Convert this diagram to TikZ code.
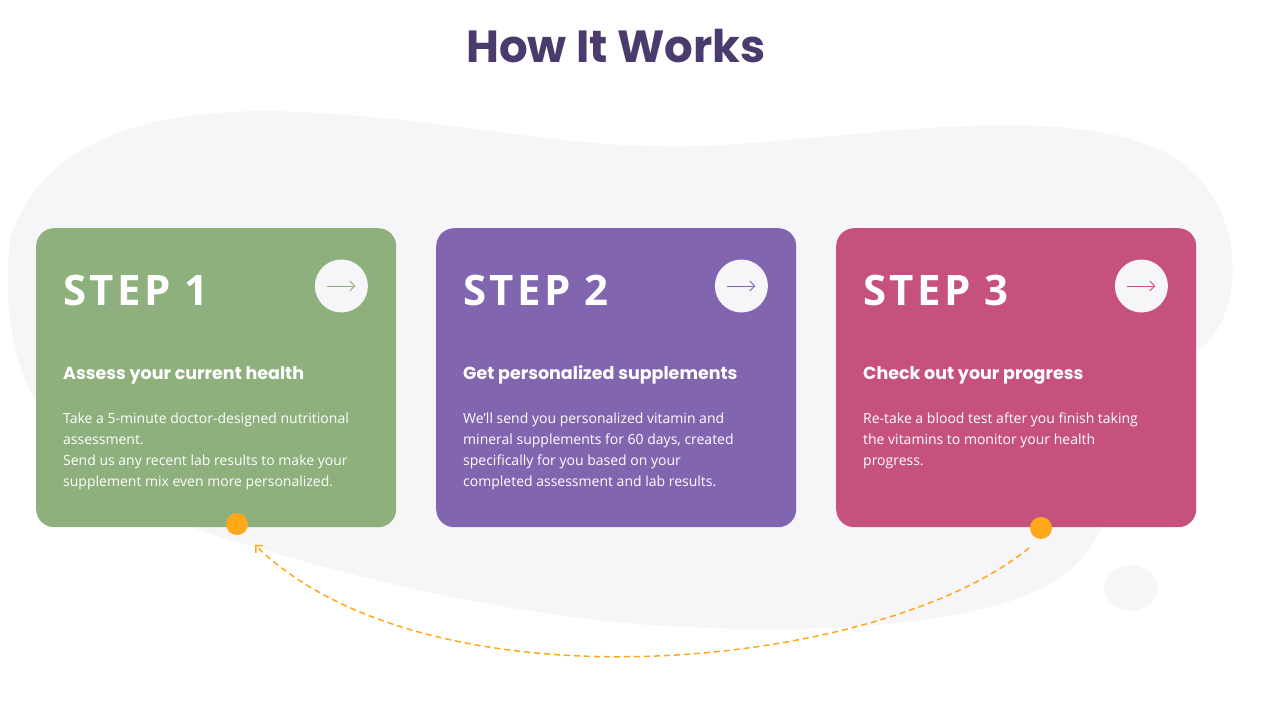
\documentclass[tikz,border=0pt]{standalone}
\usepackage{fontspec}
\setmainfont{Open Sans}
\newfontfamily\headfont{Poppins}
\newfontfamily\stepfont{Open Sans}[LetterSpace=8]
\usetikzlibrary{positioning,arrows.meta}
\definecolor{blobgrey}{HTML}{F6F5F8}
\definecolor{stepgreen}{HTML}{8DB07C}
\definecolor{steppurple}{HTML}{8265AF}
\definecolor{steppink}{HTML}{C6517E}
\definecolor{dotorange}{HTML}{FFA91A}
\definecolor{titlepurple}{HTML}{4A3A6E}
\tikzset{
  card/.style={fill=#1, rounded corners=18pt, minimum width=360pt, minimum height=299pt, inner sep=0pt},
  steplabel/.style={text=white, anchor=base west, font=\stepfont\bfseries\fontsize{42}{48}\selectfont, inner sep=0pt},
  stephead/.style={text=white, anchor=base west, font=\headfont\bfseries\fontsize{17.5}{20}\selectfont, inner sep=0pt},
  stepbody/.style={text=white, anchor=north west, align=left, font=\fontsize{14}{21}\selectfont, inner sep=0pt},
  gobutton/.style={circle, fill=blobgrey, minimum size=53pt, inner sep=0pt},
  orangedot/.style={circle, fill=dotorange, minimum size=22pt, inner sep=0pt}
}
\begin{document}
\begin{tikzpicture}[x=1pt,y=-1pt]
\useasboundingbox (0,0) rectangle (1272,709);
% background blob
\fill[blobgrey] (10,240) .. controls (40,140) and (150,105) .. (300,112)
  .. controls (450,118) and (560,150) .. (700,146)
  .. controls (850,140) and (1050,100) .. (1160,150)
  .. controls (1250,190) and (1250,320) .. (1195,352)
  .. controls (1120,400) and (1130,520) .. (1070,570)
  .. controls (1000,630) and (800,635) .. (650,625)
  .. controls (480,612) and (330,570) .. (230,540)
  .. controls (100,500) and (-10,420) .. (10,240) -- cycle;
\fill[blobgrey] (1131,588) ellipse [x radius=27, y radius=23];
% title
\node[text=titlepurple, font=\headfont\bfseries\fontsize{45}{50}\selectfont, anchor=base] (title) at (616,63) {How It Works};
% cards
\node[card=stepgreen, anchor=north west] (card1) at (36,228) {};
\node[card=steppurple, anchor=north west] (card2) at (436,228) {};
\node[card=steppink, anchor=north west] (card3) at (836,228) {};
\foreach \i/\col in {1/stepgreen,2/steppurple,3/steppink}{
  \node[steplabel] (step\i) at ([shift={(27,77)}]card\i.north west) {STEP \i};
  \node[gobutton] (go\i) at ([shift={(-55,58)}]card\i.north east) {};
  \draw[\col, line width=0.9pt, -{Straight Barb[length=5pt,width=10pt]}] ([xshift=-14pt]go\i.center) -- ([xshift=14pt]go\i.center);
}
\node[stephead] (head1) at ([shift={(27,151)}]card1.north west) {Assess your current health};
\node[stephead] (head2) at ([shift={(27,151)}]card2.north west) {Get personalized supplements};
\node[stephead] (head3) at ([shift={(27,151)}]card3.north west) {Check out your progress};
\node[stepbody] (body1) at ([shift={(27,185)}]card1.north west) {Take a 5-minute doctor-designed nutritional\\assessment.\\Send us any recent lab results to make your\\supplement mix even more personalized.};
\node[stepbody] (body2) at ([shift={(27,185)}]card2.north west) {We'll send you personalized vitamin and\\mineral supplements for 60 days, created\\specifically for you based on your\\completed assessment and lab results.};
\node[stepbody] (body3) at ([shift={(27,185)}]card3.north west) {Re-take a blood test after you finish taking\\the vitamins to monitor your health\\progress.};
% loop back
\node[orangedot] (dot1) at (237,524) {};
\node[orangedot] (dot3) at (1041,528) {};
\coordinate (loopend) at (255,545);
\draw[dotorange, line width=1.5pt, dash pattern=on 6pt off 4pt, -{Straight Barb[length=5pt,width=10pt]}]
  ([shift={(-12,20)}]dot3.center) .. controls (880,670) and (430,715) .. (loopend);
\end{tikzpicture}
\end{document}
